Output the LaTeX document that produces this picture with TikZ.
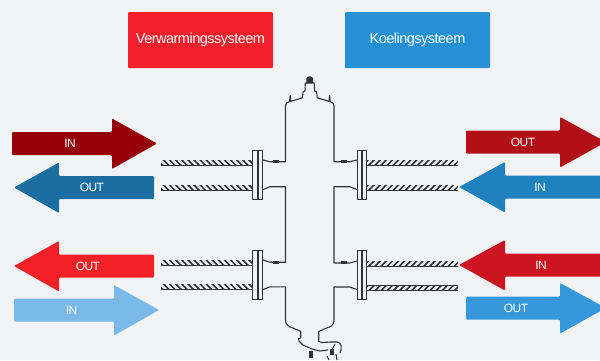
\documentclass[tikz,border=0pt]{standalone}
\usepackage{fontspec}
\setmainfont{Liberation Sans}
\definecolor{bg}{HTML}{F2F3F5}
\definecolor{ink}{HTML}{333333}
\definecolor{redA}{HTML}{960008}
\definecolor{blueA}{HTML}{1A6EA0}
\definecolor{redB}{HTML}{F32028}
\definecolor{blueB}{HTML}{7AB8E8}
\definecolor{redC}{HTML}{B30F17}
\definecolor{blueC}{HTML}{1F82BF}
\definecolor{redD}{HTML}{CC1520}
\definecolor{blueD}{HTML}{3498DB}
\definecolor{boxR}{HTML}{F3202B}
\definecolor{boxB}{HTML}{2690D4}
\tikzset{
  arrowshape/.style={line join=round,rounded corners=1pt},
  arrowtext/.style={text=white,font=\fontsize{12}{12}\selectfont\addfontfeature{LetterSpace=-5}},
  titlebox/.style={rounded corners=1pt,minimum width=145pt,minimum height=56pt,inner sep=0pt,text=white,font=\fontsize{14.5}{15}\selectfont\addfontfeature{LetterSpace=-3.5}},
  wall/.style={draw=ink,line width=1.1pt,line join=round},
  plate/.style={draw=ink,line width=1pt,fill=bg}
}
\newcommand{\rarrowshape}[8]{%
  \fill[#5,arrowshape] (#1,#4-11.5) -- (#2,#4-11.5) -- (#2,#4-25) -- (#3,#4) -- (#2,#4+25.5) -- (#2,#4+11.5) -- (#1,#4+11.5) -- cycle;
  \node[arrowtext] (#6) at (#8,#4) {#7};}
\newcommand{\threadpipe}[4]{%
  \fill[ink] (#1,#3-3) rectangle (#2,#3+3);
  \begin{scope}
    \clip (#1,#3-1.7) rectangle (#2,#3+1.7);
    \foreach \k in {0,...,15}{
      \draw[bg,line width=2.4pt] ({#1+2+\k*6.1-#4},#3-3) -- ({#1+2+\k*6.1+#4},#3+3);}
  \end{scope}}
\newcommand{\flangeplates}[3]{%
  \draw[plate] (#1,#3) rectangle +(5,49.5);
  \draw[plate] (#2,#3) rectangle +(4.6,49.5);}
\begin{document}
\begin{tikzpicture}[x=1pt,y=-1pt]
\useasboundingbox (0,0) rectangle (600,360);
\fill[bg] (0,0) rectangle (600,360);

\node[titlebox,fill=boxR] (heat) at (200.5,40) {Verwarmingssysteem};
\node[titlebox,fill=boxB] (cool) at (417.5,40) {Koelingsysteem};

\rarrowshape{12}{112}{157}{143.5}{redA}{inA}{IN}{70}
\rarrowshape{154}{59}{14}{187.5}{blueA}{outA}{OUT}{92}
\rarrowshape{154}{59}{14}{266}{redB}{outB}{OUT}{88}
\rarrowshape{14}{114}{159}{310}{blueB}{inB}{IN}{71.5}
\rarrowshape{466}{560}{606}{142}{redC}{outC}{OUT}{523}
\rarrowshape{606}{505}{459}{187}{blueC}{inC}{IN}{540}
\rarrowshape{606}{505}{459}{265}{redD}{inD}{IN}{541}
\rarrowshape{466}{560}{606}{308}{blueD}{outD}{OUT}{516}

\threadpipe{161}{252.5}{162.5}{3}
\threadpipe{161}{252.5}{187.5}{3}
\threadpipe{161}{252.5}{262.5}{3}
\threadpipe{161}{252.5}{286.5}{3}
\threadpipe{366.5}{458.3}{162.5}{-3}
\threadpipe{366.5}{458.3}{187.5}{-3}
\threadpipe{366.5}{458.3}{263.5}{-3}
\threadpipe{366.5}{458.3}{288}{-3}

\flangeplates{252.5}{258.3}{150}
\flangeplates{252.5}{258.3}{250}
\flangeplates{357.2}{362.2}{150}
\flangeplates{357.2}{362.2}{250}
\fill[ink] (256.8,150) rectangle (258.8,199.5);
\fill[ink] (256.8,250) rectangle (258.8,299.5);
\fill[ink] (361.2,150) rectangle (362.7,199.5);
\fill[ink] (361.2,250) rectangle (362.7,299.5);

\draw[wall] (263,160) .. controls (266,160) and (267,161.7) .. (270,161.7) -- (285.5,161.7)
  -- (285.5,105) .. controls (286,103) and (287,102.5) .. (289.5,101.7)
  -- (302.5,97.8) -- (303,92) -- (305,91) -- (305.3,83) -- (314.3,83) -- (314.6,91) -- (316.6,92) -- (317.2,97.8)
  -- (330,101.7) .. controls (332.6,102.5) and (333.7,103) .. (334,105)
  -- (334,161.7) -- (349.5,161.7) .. controls (353,161.7) and (354,160) .. (357,160);
\draw[wall] (263,189.5) .. controls (266,189.5) and (267,186.7) .. (270,186.7) -- (285.5,186.7)
  -- (285.5,262.2) -- (270,262.2) .. controls (267,262.2) and (266,260) .. (263,260);
\draw[wall] (357,189.5) .. controls (354,189.5) and (353,186.7) .. (349.5,186.7) -- (334,186.7)
  -- (334,263) -- (349.5,263) .. controls (353,263) and (354,261) .. (357,261);
\draw[wall] (263,289.5) .. controls (266,289.5) and (267,286.8) .. (270,286.8) -- (285.5,286.8)
  -- (285.5,321) .. controls (286,325) and (289,327) .. (293,328) -- (300.7,331.3) -- (300.7,338) -- (298.5,338.5) -- (299,341)
  -- (303,345) -- (312,349) -- (320,351) -- (328,350);
\draw[wall] (357,289.5) .. controls (354,289.5) and (353,287) .. (349.5,287) -- (334,287)
  -- (334,321) .. controls (333.5,325) and (331,327) .. (326.7,328) -- (318.7,331.5) -- (318.7,341.5) -- (322,342.5) -- (331,342)
  -- (337,342) .. controls (342,342) and (342,349) .. (340,353);
\draw[wall] (335,344) -- (332,350);
\draw[wall] (327,356) -- (329,360);
\draw[wall] (336,354) -- (337,360);
\fill[ink] (306.3,83) -- (306.3,78.5) .. controls (306.5,75.5) and (312.8,75.5) .. (313,78.5) -- (313,83) -- cycle;
\fill[ink] (289,102) -- (289.6,95) -- (290.8,95) -- (291.4,101.5) -- cycle;
\fill[ink] (328.4,101.5) -- (329,95) -- (330.2,95) -- (330.8,102) -- cycle;
\fill[ink] (273,160) rectangle (279,163);
\fill[ink] (341,160) rectangle (347,163);
\fill[ink] (341,261.4) rectangle (347,264.4);
\fill[ink] (273,260.6) rectangle (279,263.6);
\fill[ink] (308.5,351) rectangle (312.5,357.5);
\fill[ink] (330,349) rectangle (334,355);
\end{tikzpicture}
\end{document}
